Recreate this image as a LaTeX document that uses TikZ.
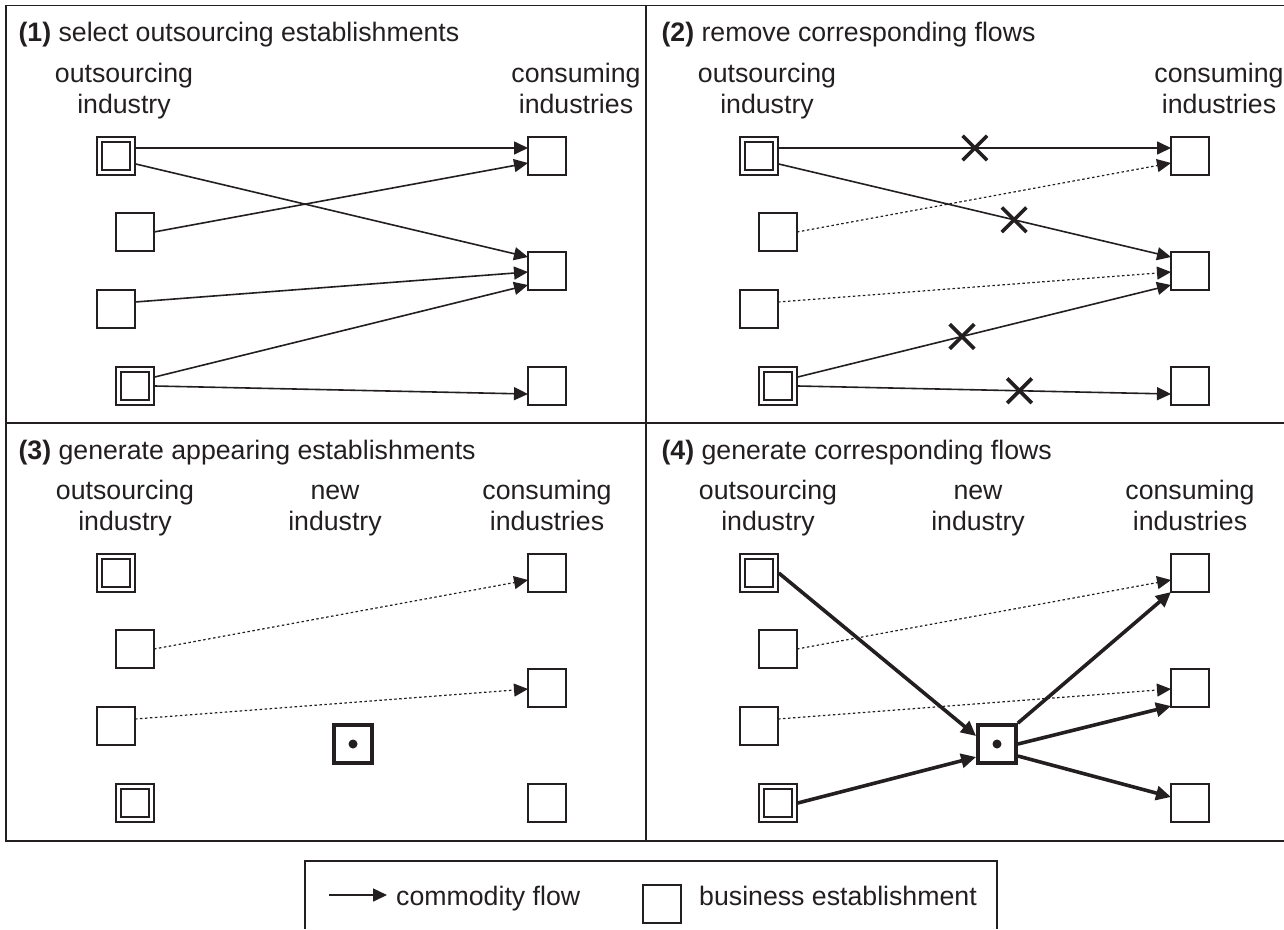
\documentclass[tikz,border=0pt]{standalone}
\usepackage{fontspec}
\setmainfont{Liberation Sans}
\usetikzlibrary{arrows.meta,calc,shapes.misc}
\definecolor{ink}{HTML}{231F20}

\begin{document}
\begin{tikzpicture}[x=1pt,y=-1pt,
  every node/.style={font=\fontsize{26.7}{30.5}\selectfont, text=ink},
  frame/.style={draw=ink, line width=1.6pt},
  est/.style={draw=ink, line width=1.6pt, minimum size=38pt, inner sep=0pt, outer sep=0pt, fill=white},
  dest/.style={draw=ink, double=white, line width=1.5pt, double distance=3.5pt,
               minimum size=33pt, inner sep=0pt, outer sep=3.25pt},
  newest/.style={draw=ink, line width=3.8pt, minimum size=38pt, inner sep=0pt, fill=white},
  flow/.style={draw=ink, line width=1.6pt, -{Triangle[length=14pt,width=13pt]}},
  dotflow/.style={flow, line width=1.2pt, dash pattern=on 2.5pt off 2.5pt},
  bigflow/.style={flow, line width=3.6pt, -{Triangle[length=15pt,width=14pt]}},
  xmark/.style={cross out, draw=ink, line width=3.6pt, minimum size=21pt, inner sep=0pt},
  head/.style={anchor=base, align=center},
  title/.style={anchor=base west},
]
\useasboundingbox (0,0) rectangle (1284,929);

% panel frame and dividers
\draw[frame] (1284,5.5) -- (6,5.5) -- (6,841) -- (1284,841);
\draw[frame] (646,5.5) -- (646,841);
\draw[frame] (6,423) -- (1284,423);

% establishments of the outsourcing and consuming industries, one set per panel
\foreach \p/\dx/\dy in {1/0/0,2/643/0,3/0/417,4/643/417}{
  \begin{scope}[shift={(\dx,\dy)}]
    \node[dest] (oa\p) at (116,156) {};
    \node[est]  (ob\p) at (135,232) {};
    \node[est]  (oc\p) at (116,309) {};
    \node[dest] (od\p) at (135,386) {};
    \node[est]  (ca\p) at (547,156) {};
    \node[est]  (cb\p) at (547,271) {};
    \node[est]  (cc\p) at (547,386) {};
  \end{scope}
}

% titles
\node[title] (t1) at (15,41)   {\textbf{(1)} select outsourcing establishments};
\node[title] (t2) at (658,41)  {\textbf{(2)} remove corresponding flows};
\node[title] (t3) at (15,459)  {\textbf{(3)} generate appearing establishments};
\node[title] (t4) at (658,459) {\textbf{(4)} generate corresponding flows};

% column headings (anchored on the baseline of their second line)
\node[head] (h1o) at (124,113)  {outsourcing\\industry};
\node[head] (h1c) at (576,113)  {consuming\\industries};
\node[head] (h2o) at (767,113)  {outsourcing\\industry};
\node[head] (h2c) at (1219,113) {consuming\\industries};
\node[head] (h3o) at (125,530)  {outsourcing\\industry};
\node[head] (h3n) at (335,530)  {new\\industry};
\node[head] (h3c) at (547,530)  {consuming\\industries};
\node[head] (h4o) at (768,530)  {outsourcing\\industry};
\node[head] (h4n) at (978,530)  {new\\industry};
\node[head] (h4c) at (1190,530) {consuming\\industries};

% new industry establishments
\node[newest] (n3) at (353,744) {};
\node[newest] (n4) at (997,744) {};
\fill[ink] (n3.center) circle[radius=4.5pt];
\fill[ink] (n4.center) circle[radius=4.5pt];

% (1) existing flows
\draw[flow] ($(oa1.east)+(0,-8)$) -- ($(ca1.west)+(0,-8)$);
\draw[flow] ($(oa1.east)+(0,8)$)  -- ($(cb1.west)+(0,-14)$);
\draw[flow] (ob1.east)            -- ($(ca1.west)+(0,7)$);
\draw[flow] ($(oc1.east)+(0,-7)$) -- ($(cb1.west)+(0,1)$);
\draw[flow] ($(od1.east)+(0,-9)$) -- ($(cb1.west)+(0,14)$);
\draw[flow] (od1.east)            -- ($(cc1.west)+(0,8)$);

% (2) flows of the outsourcing establishments are removed
\draw[flow] ($(oa2.east)+(0,-8)$) -- node[xmark,pos=0.5]{}   ($(ca2.west)+(0,-8)$);
\draw[flow] ($(oa2.east)+(0,8)$)  -- node[xmark,pos=0.6]{}   ($(cb2.west)+(0,-14)$);
\draw[dotflow] (ob2.east)            -- ($(ca2.west)+(0,7)$);
\draw[dotflow] ($(oc2.east)+(0,-7)$) -- ($(cb2.west)+(0,1)$);
\draw[flow] ($(od2.east)+(0,-9)$) -- node[xmark,pos=0.44]{}  ($(cb2.west)+(0,14)$);
\draw[flow] (od2.east)            -- node[xmark,pos=0.594]{} ($(cc2.west)+(0,8)$);

% (3) remaining flows
\draw[dotflow] (ob3.east)            -- ($(ca3.west)+(0,7)$);
\draw[dotflow] ($(oc3.east)+(0,-7)$) -- ($(cb3.west)+(0,1)$);

% (4) remaining flows and flows through the new establishment
\draw[dotflow] (ob4.east)            -- ($(ca4.west)+(0,7)$);
\draw[dotflow] ($(oc4.east)+(0,-7)$) -- ($(cb4.west)+(0,1)$);
\draw[bigflow] (oa4.east) -- ($(n4.west)+(0,-8)$);
\draw[bigflow] (od4.east) -- ($(n4.west)+(0,13)$);
\draw[bigflow] (n4.north east) -- (ca4.south west);
\draw[bigflow] (n4.east) -- ($(cb4.south west)+(0,-1)$);
\draw[bigflow] ($(n4.east)+(0,12)$) -- ($(cc4.west)+(0,-6)$);

% legend
\draw[frame] (305,929) -- (305,861) -- (997,861) -- (997,929);
\coordinate (lgs) at (329,895);
\coordinate (lge) at (387,895);
\draw[flow] (lgs) -- (lge);
\node[anchor=base west, inner sep=0pt] (lgt1) at (396,905) {commodity flow};
\node[est] (lgb) at (662,904) {};
\node[anchor=base west, inner sep=0pt] (lgt2) at (699,905) {business establishment};
\end{tikzpicture}
\end{document}
